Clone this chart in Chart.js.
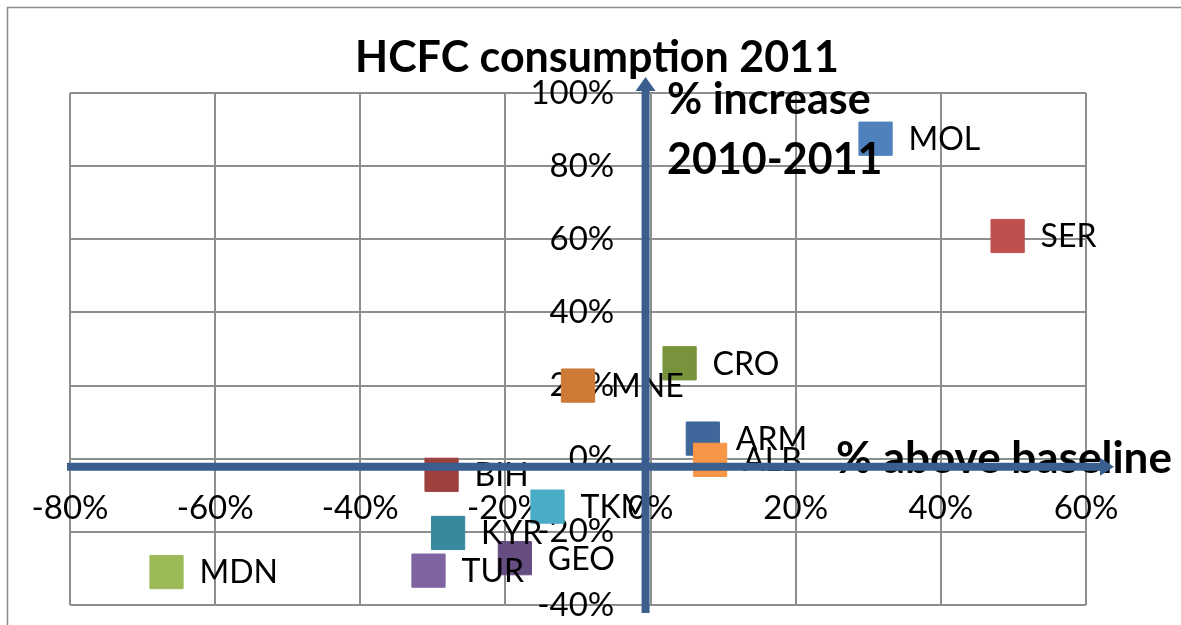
<!DOCTYPE html>
<html>
<head>
<meta charset="utf-8">
<script src="https://cdn.jsdelivr.net/npm/chart.js@4.4.1/dist/chart.umd.min.js"></script>
<style>
  html, body { margin: 0; padding: 0; background: #fff; }
  #wrap { width: 1181px; height: 625px; position: relative; }
</style>
</head>
<body>
<div id="wrap"><canvas id="hcfcChart" width="1181" height="625"></canvas></div>
<script>
// country codes and values (percent)
const countries = ['MOL', 'SER', 'CRO', 'MNE', 'ARM', 'ALB', 'BIH', 'TKM', 'KYR', 'GEO', 'TUR', 'MDN'];
const aboveBaseline = [31.0, 49.2, 4.0, -10.0, 7.2, 8.2, -28.8, -14.2, -27.9, -18.7, -30.6, -66.7];
const increase2010_2011 = [87.5, 60.9, 26.1, 20.0, 5.5, -0.3, -4.4, -13.1, -20.3, -27.2, -30.6, -31.0];
const markerColors = ['#4F81BD', '#C0504D', '#77933C', '#CD7A37', '#3F679B', '#F79646',
                      '#9E413E', '#4BACC6', '#378A9E', '#654D82', '#8064A2', '#9BBB59'];

const xTicks = { min: -80, max: 60, step: 20 };
const yTicks = { min: -40, max: 100, step: 20 };

const chartTitle = 'HCFC consumption 2011';
const yTitleLines = ['% increase', '2010-2011'];
const xTitle = '% above baseline';

const FONT = 'Lato, "Open Sans", sans-serif';
const ARROW = '#3A5F8F';
const GRID = '#8E8E8E';
// the y tick labels sit a little left of the x = 0 line (in x units)
const Y_LABEL_SHIFT = -5;

// point labels, drawn next to each marker
const pointLabels = {
    id: 'pointLabels',
    afterDatasetsDraw(chart) {
        const ctx = chart.ctx;
        const meta = chart.getDatasetMeta(0);
        ctx.save();
        ctx.font = '32px ' + FONT;
        ctx.fillStyle = '#000';
        ctx.textAlign = 'left';
        ctx.textBaseline = 'middle';
        meta.data.forEach((pt, i) => {
            ctx.fillText(countries[i], pt.x + 33, pt.y + 1);
        });
        ctx.restore();
    }
};

// titles, outer frame and the two arrows drawn over the plot
const overlay = {
    id: 'overlay',
    afterDraw(chart) {
        const ctx = chart.ctx;
        const xs = chart.scales.x;
        const ys = chart.scales.y;
        const area = chart.chartArea;
        ctx.save();

        // outer frame
        ctx.strokeStyle = '#8C8C8C';
        ctx.lineWidth = 1.5;
        ctx.strokeRect(7.5, 7.5, 1300, 700);

        ctx.fillStyle = '#000';
        ctx.textBaseline = 'alphabetic';
        ctx.font = 'bold 43px ' + FONT;
        ctx.textAlign = 'center';
        ctx.fillText(chartTitle, 597, 72);
        ctx.textAlign = 'left';
        ctx.fillText(yTitleLines[0], 667, 114);
        ctx.fillText(yTitleLines[1], 667, 174);
        ctx.font = 'bold 44px ' + FONT;
        ctx.fillText(xTitle, 836, 473);

        ctx.fillStyle = ARROW;
        ctx.strokeStyle = ARROW;
        ctx.lineWidth = 8;

        // horizontal arrow
        const hy = ys.getPixelForValue(0) + 8;
        const hx0 = area.left - 3;
        const hx1 = xs.getPixelForValue(xTicks.max) + 28;
        ctx.beginPath();
        ctx.moveTo(hx0, hy);
        ctx.lineTo(hx1 - 12, hy);
        ctx.stroke();
        ctx.beginPath();
        ctx.moveTo(hx1, hy);
        ctx.lineTo(hx1 - 14, hy - 9);
        ctx.lineTo(hx1 - 14, hy + 9);
        ctx.closePath();
        ctx.fill();

        // vertical arrow
        const vx = xs.getPixelForValue(0) - 5;
        const vy0 = area.bottom + 8;
        const vy1 = area.top - 16;
        ctx.beginPath();
        ctx.moveTo(vx, vy0);
        ctx.lineTo(vx, vy1 + 12);
        ctx.stroke();
        ctx.beginPath();
        ctx.moveTo(vx, vy1);
        ctx.lineTo(vx - 10, vy1 + 14);
        ctx.lineTo(vx + 10, vy1 + 14);
        ctx.closePath();
        ctx.fill();

        ctx.restore();
    }
};

const zeroSize = (scale) => {
    if (scale.isHorizontal()) scale.height = 0; else scale.width = 0;
};

const points = aboveBaseline.map((v, i) => ({ x: v, y: increase2010_2011[i] }));

new Chart(document.getElementById('hcfcChart'), {
    type: 'scatter',
    data: {
        datasets: [{
            data: points,
            backgroundColor: markerColors,
            borderColor: markerColors,
            borderWidth: 1,
            pointStyle: 'rect',
            pointRadius: 23.5,
            pointHoverRadius: 23.5
        }]
    },
    options: {
        responsive: false,
        animation: false,
        events: [],
        layout: { autoPadding: false, padding: { left: 70, top: 93, right: 95, bottom: 20 } },
        plugins: { legend: { display: false }, tooltip: { enabled: false } },
        scales: {
            x: {
                type: 'linear', position: 'bottom',
                min: xTicks.min, max: xTicks.max,
                ticks: { display: false, stepSize: xTicks.step },
                grid: { color: GRID, lineWidth: 2, drawTicks: false },
                border: { display: false },
                afterFit: zeroSize
            },
            y: {
                type: 'linear', position: 'left',
                min: yTicks.min, max: yTicks.max,
                ticks: { display: false, stepSize: yTicks.step },
                grid: { color: GRID, lineWidth: 2, drawTicks: false },
                border: { display: false },
                afterFit: zeroSize
            },
            xl: {
                type: 'linear', axis: 'x', position: { y: 0 }, z: 1,
                min: xTicks.min, max: xTicks.max,
                grid: { display: false, drawTicks: false },
                border: { display: false },
                ticks: {
                    stepSize: xTicks.step, padding: 30, maxRotation: 0, autoSkip: false,
                    color: '#000', font: { family: FONT, size: 33 },
                    callback: (v) => v + '%'
                },
                afterFit: zeroSize
            },
            yl: {
                type: 'linear', axis: 'y', position: { x: Y_LABEL_SHIFT }, z: 1,
                min: yTicks.min, max: yTicks.max,
                grid: { display: false, drawTicks: false },
                border: { display: false },
                ticks: {
                    stepSize: yTicks.step, padding: 0, autoSkip: false,
                    color: '#000', font: { family: FONT, size: 33 },
                    callback: (v) => v + '%'
                },
                afterFit: zeroSize
            }
        }
    },
    plugins: [pointLabels, overlay]
});
</script>
</body>
</html>
